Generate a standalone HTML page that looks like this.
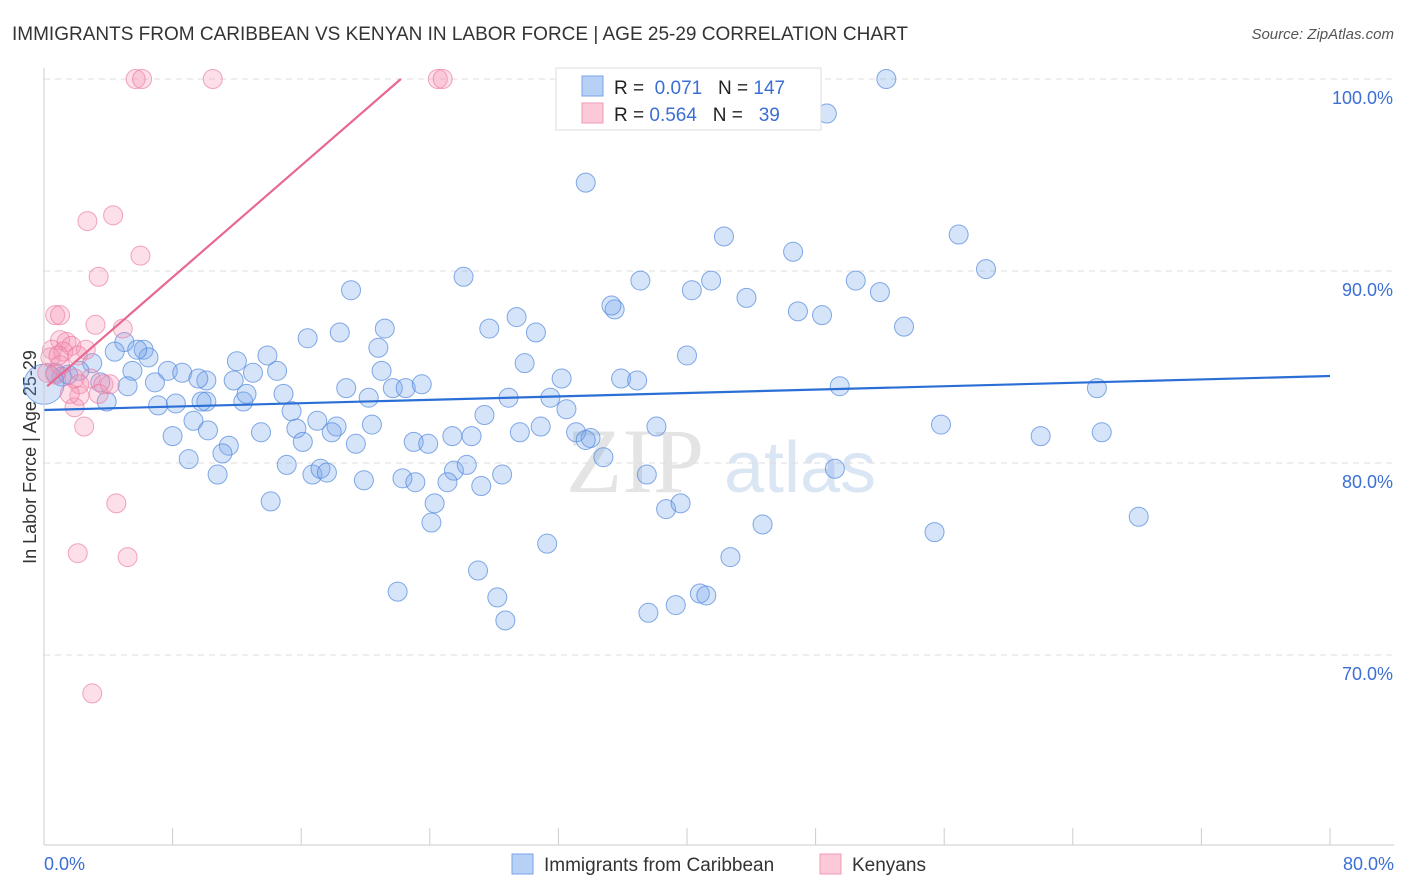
<!DOCTYPE html>
<html><head><meta charset="utf-8"><style>
body{margin:0;background:#fff;font-family:"Liberation Sans",sans-serif;}
#wrap{position:relative;width:1406px;height:892px;overflow:hidden;}
</style></head><body>
<div id="wrap">
<svg id="svg" width="1406" height="892" xmlns="http://www.w3.org/2000/svg">
<text x="12" y="40" font-size="19" fill="#333">IMMIGRANTS FROM CARIBBEAN VS KENYAN IN LABOR FORCE | AGE 25-29 CORRELATION CHART</text>
<text x="1394" y="39" font-size="15" fill="#555" font-style="italic" text-anchor="end">Source: ZipAtlas.com</text>
<text x="36" y="457" font-size="18" fill="#333" text-anchor="middle" transform="rotate(-90 36 457)">In Labor Force | Age 25-29</text>
<g><text x="635" y="492" font-size="92" fill="#e4e4e4" font-family="Liberation Serif,serif" text-anchor="middle">ZIP</text><text x="800" y="492" font-size="72" fill="#dbe6f5" text-anchor="middle">atlas</text></g>
<g id="grid"></g><g id="blue"></g><g id="pink"></g><g id="lines"></g>
<line x1="44" y1="68" x2="44" y2="845" stroke="#ccc"/>
<line x1="44" y1="845" x2="1394" y2="845" stroke="#ccc"/>
<text x="44" y="870" font-size="18" fill="#3b6fd4">0.0%</text>
<text x="1394" y="870" font-size="18" fill="#3b6fd4" text-anchor="end">80.0%</text>
<g>
<rect x="556" y="68" width="265" height="62" fill="#fff" stroke="#ddd"/>
<rect x="582" y="76" width="21" height="20" fill="#b7d0f5" stroke="#7aa3e6"/>
<rect x="582" y="103" width="21" height="20" fill="#fbc9d8" stroke="#f09ab5"/>
<text x="614" y="94" font-size="19" fill="#222">R = <tspan fill="#3b6fd4">&#160;0.071</tspan>&#160;&#160;&#160;N = <tspan fill="#3b6fd4">147</tspan></text>
<text x="614" y="121" font-size="19" fill="#222">R = <tspan fill="#3b6fd4">0.564</tspan>&#160;&#160;&#160;N = <tspan fill="#3b6fd4">&#160;&#160;39</tspan></text>
</g>
<g>
<rect x="512" y="854" width="21" height="20" fill="#b7d0f5" stroke="#7aa3e6"/>
<text x="544" y="871" font-size="19" fill="#333">Immigrants from Caribbean</text>
<rect x="820" y="854" width="21" height="20" fill="#fbc9d8" stroke="#f09ab5"/>
<text x="852" y="871" font-size="19" fill="#333">Kenyans</text>
</g>
</svg>
</div>
<script>
const yTicks=[100,90,80,70];
const yTickLabels=["100.0%","90.0%","80.0%","70.0%"];
const xTicks=[0,8,16,24,32,40,48,56,64,72,80];
const blueX=[52.4,48.7,33.7,42.3,56.9,46.6,58.6,26.1,37.1,41.5,50.5,40.3,19.1,52.0,43.7,35.5,35.3,46.9,48.4,29.4,53.5,27.7,21.2,18.4,30.6,16.4,20.8,40.0,5.0,4.4,6.2,6.5,5.8,13.9,12.0,29.9,7.7,5.5,10.1,13.0,8.6,14.5,21.0,0.7,1.1,1.5,3.0,2.2,3.5,5.2,6.9,9.6,11.8,18.8,21.7,22.5,23.5,32.2,35.9,36.9,49.5,65.5,3.9,7.1,8.2,10.1,12.4,9.8,12.6,14.9,20.2,28.9,31.5,15.4,32.5,9.3,10.2,17.0,15.7,18.2,20.4,27.4,17.9,8.0,13.5,16.1,19.4,33.1,34.0,33.7,29.6,30.9,25.4,26.6,23.0,23.9,38.1,55.8,62.0,65.8,11.5,11.1,9.0,34.8,15.1,10.8,16.7,17.2,17.6,25.5,26.3,28.5,19.9,22.3,23.1,25.1,27.2,37.5,49.2,14.1,24.3,38.7,39.6,24.1,44.7,68.1,55.4,31.3,42.7,27.0,22.0,28.2,40.8,41.2,37.6,39.3,28.7,0.0];
const blueY=[100,98.2,94.6,91.8,91.9,91.0,90.1,89.7,89.5,89.5,89.5,89.0,89.0,88.9,88.6,88.0,88.2,87.9,87.7,87.6,87.1,87.0,87.0,86.8,86.8,86.5,86.0,85.6,86.3,85.8,85.9,85.5,85.9,85.6,85.3,85.2,84.8,84.8,84.3,84.7,84.7,84.8,84.8,84.7,84.5,84.6,85.2,84.8,84.2,84.0,84.2,84.4,84.3,83.9,83.9,83.9,84.1,84.4,84.4,84.3,84.0,83.9,83.2,83.0,83.1,83.2,83.2,83.2,83.6,83.6,83.4,83.4,83.4,82.7,82.8,82.2,81.7,82.2,81.8,81.9,82.0,82.5,81.6,81.4,81.6,81.1,81.0,81.6,81.3,81.2,81.6,81.9,81.4,81.4,81.1,81.0,81.9,82.0,81.4,81.6,80.9,80.5,80.2,80.3,79.9,79.4,79.4,79.7,79.5,79.6,79.9,79.4,79.1,79.2,79.0,79.0,78.8,79.4,79.7,78.0,77.9,77.6,77.9,76.9,76.8,77.2,76.4,75.8,75.1,74.4,73.3,73.0,73.2,73.1,72.2,72.6,71.8,84.1];
const pinkX=[5.7,6.1,10.5,24.5,24.8,2.7,4.3,6.0,3.4,0.7,1.0,3.2,4.9,1.0,1.4,1.7,0.5,1.2,2.6,0.4,2.1,0.7,1.9,2.9,3.7,2.2,2.2,3.4,1.9,2.5,4.5,2.1,5.2,3.0,0.2,1.0,4.1,1.6,0.9];
const pinkY=[100,100,100,100,100,92.6,92.9,90.8,89.7,87.7,87.7,87.2,87.0,86.4,86.3,86.1,85.9,85.8,85.9,85.5,85.6,84.6,84.4,84.4,84.1,84.1,83.5,83.6,82.9,81.9,77.9,75.3,75.1,68.0,84.7,85.1,84.1,83.6,85.6];
const blueTrend=[82.76,84.53];
const pinkTrend=[84.0,100];
const pinkTrendX=[0.2,22.2];

const NS="http://www.w3.org/2000/svg";
const X0=44,X1=1330,Ytop=79,PX=19.2;
function sx(v){return X0+(v/80)*(X1-X0);}
function sy(v){return Ytop+(100-v)*PX;}
function mk(tag,attrs,parent){const e=document.createElementNS(NS,tag);for(const k in attrs)e.setAttribute(k,attrs[k]);parent.appendChild(e);return e;}
const grid=document.getElementById('grid');
yTicks.forEach((t,i)=>{
 const l=mk('line',{x1:44,x2:1394,y1:sy(t),y2:sy(t),stroke:'#ddd','stroke-dasharray':'6,5'},grid);
 
 
 const tx=mk('text',{x:1393,y:sy(t)+25,'font-size':18,fill:'#3b6fd4','text-anchor':'end'},grid);
 tx.textContent=yTickLabels[i];
 
 
});
xTicks.forEach(t=>{
 const l=mk('line',{x1:sx(t),x2:sx(t),y1:828,y2:845,stroke:'#ccc'},grid);
 
 
});
const gb=document.getElementById('blue');
blueX.forEach((x,i)=>{
 const big=(i===blueX.length-1);
 const c=mk('circle',{cx:sx(x),cy:sy(blueY[i]),r:big?20:9.5,fill:'rgba(120,165,235,0.3)',stroke:'rgba(80,135,220,0.7)','stroke-width':1},gb);
 
 
});
const gp=document.getElementById('pink');
pinkX.forEach((x,i)=>{
 const c=mk('circle',{cx:sx(x),cy:sy(pinkY[i]),r:9.5,fill:'rgba(245,150,180,0.3)',stroke:'rgba(235,120,160,0.65)','stroke-width':1},gp);
 
 
});
const gl=document.getElementById('lines');
const bl=mk('line',{x1:sx(0),y1:sy(blueTrend[0]),x2:sx(80),y2:sy(blueTrend[1]),stroke:'#2b6fd6','stroke-width':2.2},gl);


const pl=mk('line',{x1:sx(pinkTrendX[0]),y1:sy(pinkTrend[0]),x2:sx(pinkTrendX[1]),y2:sy(pinkTrend[1]),stroke:'#e8698f','stroke-width':2.2},gl);


</script>
</body></html>
